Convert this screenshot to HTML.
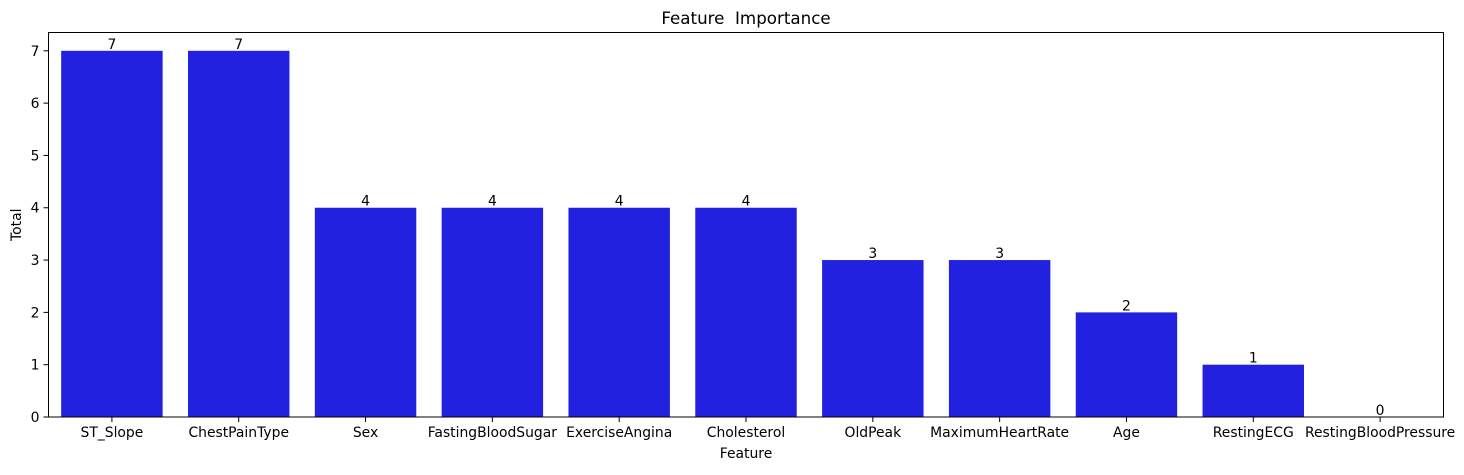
<!DOCTYPE html>
<html><head><meta charset="utf-8"><style>
body{margin:0;background:#fff}
svg text{font-family:"DejaVu Sans","Liberation Sans",sans-serif;font-size:13.9px;fill:#000}
</style></head><body>
<svg id="chart" width="1464" height="470" xmlns="http://www.w3.org/2000/svg"></svg>
<script>
const categories=["ST_Slope","ChestPainType","Sex","FastingBloodSugar","ExerciseAngina","Cholesterol","OldPeak","MaximumHeartRate","Age","RestingECG","RestingBloodPressure"];
const values=[7,7,4,4,4,4,3,3,2,1,0];
const yTicks=[0,1,2,3,4,5,6,7];
const L=48.5,R=1443.5,T=32.5,B=417;
const yMax=Math.max(...values)*1.05||1;
const n=categories.length;
function x(i){return L+(i+0.5)*(R-L)/n;}
function y(v){return B-(v/yMax)*(B-T);}
const bw=0.8*(R-L)/n;
const svg=document.getElementById('chart');
const NS="http://www.w3.org/2000/svg";
function mk(t,a,p){const e=document.createElementNS(NS,t);for(const k in a)e.setAttribute(k,a[k]);(p||svg).appendChild(e);return e;}
categories.forEach((c,i)=>{
 const r=mk('rect',{x:x(i)-bw/2,y:y(values[i]),width:bw,height:B-y(values[i]),fill:'#2121df'});
 
 
 const lb=mk('text',{x:x(i),y:y(values[i])-2,'text-anchor':'middle'});lb.textContent=values[i];
 
 
 mk('line',{x1:x(i),x2:x(i),y1:B,y2:B+5,stroke:'#000','stroke-width':1});
 const tl=mk('text',{x:x(i),y:B+20,'text-anchor':'middle'});tl.textContent=c;
 
 
});
yTicks.forEach(t=>{
 mk('line',{x1:L-5,x2:L,y1:y(t),y2:y(t),stroke:'#000','stroke-width':1});
 const tl=mk('text',{x:L-9,y:y(t)+5,'text-anchor':'end'});tl.textContent=t;
 
 
});
const fr=mk('rect',{x:L,y:T,width:R-L,height:B-T,fill:'none',stroke:'#000','stroke-width':1});


const ti=mk('text',{x:(L+R)/2,y:24,'text-anchor':'middle'});ti.textContent='Feature\u00a0 Importance';
ti.style.fontSize='16.7px';


const xt=mk('text',{x:(L+R)/2,y:458,'text-anchor':'middle'});xt.textContent='Feature';


const yt=mk('text',{x:21,y:(T+B)/2,'text-anchor':'middle',transform:'rotate(-90 21 '+((T+B)/2)+')'});yt.textContent='Total';


</script>
</body></html>
